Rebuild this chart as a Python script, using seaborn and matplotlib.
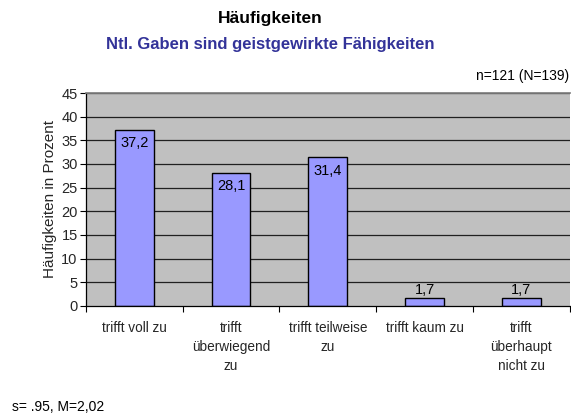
import matplotlib
matplotlib.use("Agg")
import matplotlib.pyplot as plt
import seaborn as sns
import pandas as pd
import numpy as np

categories = ["trifft voll zu", "trifft\nüberwiegend\nzu", "trifft teilweise\nzu",
              "trifft kaum zu", "trifft\nüberhaupt\nnicht zu"]
values = [37.2, 28.1, 31.4, 1.7, 1.7]
value_labels = ["37,2", "28,1", "31,4", "1,7", "1,7"]
yticks = [0, 5, 10, 15, 20, 25, 30, 35, 40, 45]

sns.set_theme(style="white")
plt.rcParams["font.family"] = ["Liberation Sans", "DejaVu Sans"]

df = pd.DataFrame({"Kategorie": categories, "Wert": values})

fig = plt.figure(figsize=(5.71, 4.18), dpi=100)
ax = fig.add_axes([0.1506, 0.268, 0.847, 0.5095])
ax.set_facecolor("#C0C0C0")

sns.barplot(data=df, x="Kategorie", y="Wert", ax=ax, color="#9999FF",
            width=0.4, edgecolor="black", linewidth=1, saturation=1)

ax.set_ylim(0, 45)
ax.set_xlim(-0.5, len(categories) - 0.5)
ax.set_yticks(yticks)
ax.set_yticklabels([str(t) for t in yticks], fontsize=10.5)
for t in yticks[1:]:
    ax.axhline(t, color="#202020", lw=0.9, zorder=0.5)
ax.set_axisbelow(True)

ax.set_xticks(np.arange(-0.5, len(categories), 1.0), minor=False)
ax.set_xticklabels([])
ax.set_xticks(np.arange(len(categories)), minor=True)
ax.set_xticklabels(categories, minor=True, fontsize=9.8, linespacing=1.45)
ax.tick_params(axis="x", which="major", length=4, direction="out", width=0.8,
               color="black", bottom=True)
ax.tick_params(axis="x", which="minor", length=0, pad=11)
ax.tick_params(axis="y", length=4, direction="out", width=0.8, color="black",
               left=True, pad=2)
for lbl in ax.get_xticklabels(minor=True):
    lbl.set_verticalalignment("top")

ax.set_xlabel("")
ax.set_ylabel("Häufigkeiten in Prozent", fontsize=11, labelpad=3)

for s in ["left", "bottom"]:
    ax.spines[s].set_visible(True)
    ax.spines[s].set_color("black")
    ax.spines[s].set_linewidth(0.9)
ax.spines["top"].set_visible(True)
ax.spines["top"].set_color("#808080")
ax.spines["right"].set_visible(False)

for i, (v, lab) in enumerate(zip(values, value_labels)):
    if v > 5:
        ax.text(i, v - 1.3, lab, ha="center", va="top", fontsize=10.5, color="black")
    else:
        ax.text(i, v + 0.3, lab, ha="center", va="bottom", fontsize=10.5, color="black")

fig.text(270 / 571, 1 - 18 / 418, "Häufigkeiten", ha="center", va="center",
         fontsize=12.5, fontweight="bold", color="black")
fig.text(270 / 571, 1 - 44 / 418, "Ntl. Gaben sind geistgewirkte Fähigkeiten",
         ha="center", va="center", fontsize=12, fontweight="bold", color="#333399")
fig.text(0.997, 1 - 76 / 418, "n=121 (N=139)", ha="right", va="center",
         fontsize=10, color="black")
fig.text(12 / 571, 1 - 407 / 418, "s= .95, M=2,02", ha="left", va="center",
         fontsize=10, color="black")

fig.savefig("out.png", dpi=100, facecolor="white")
